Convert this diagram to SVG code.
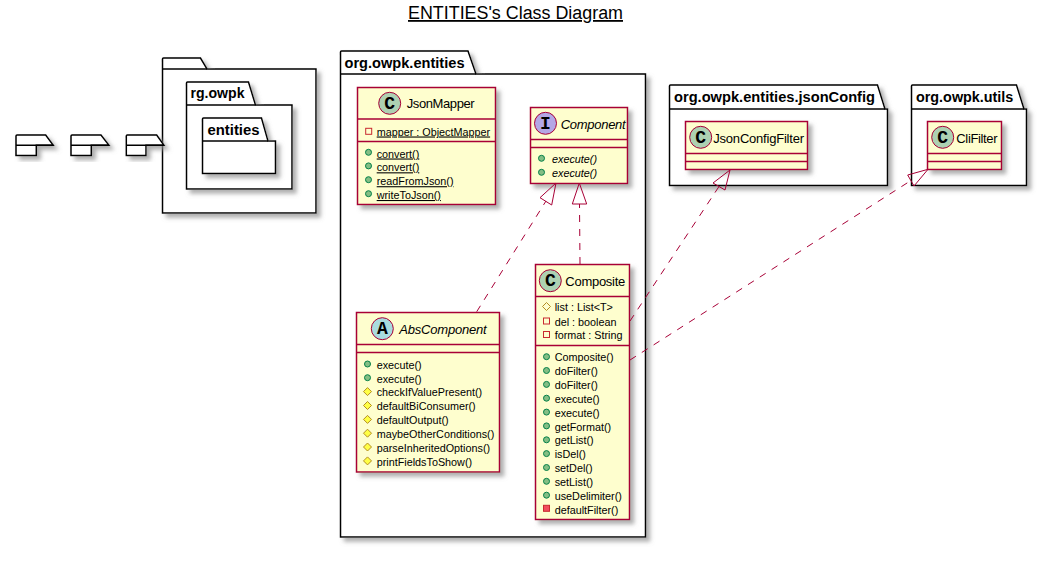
<svg xmlns="http://www.w3.org/2000/svg" width="1042" height="572" viewBox="0 0 1042 572">
<defs>
<filter id="sh" x="-20%" y="-20%" width="150%" height="150%"><feGaussianBlur in="SourceAlpha" stdDeviation="2"/><feColorMatrix type="matrix" values="0 0 0 0 0.3 0 0 0 0 0.3 0 0 0 0 0.3 0 0 0 0.75 0"/><feOffset dx="4" dy="4" result="b"/><feMerge><feMergeNode in="b"/><feMergeNode in="SourceGraphic"/></feMerge></filter>
</defs>
<style>
text{font-family:"Liberation Sans",Arial,sans-serif;fill:#000}
.title{font-size:18px;text-decoration:underline}
.pk{fill:#fff;stroke:#000;stroke-width:1.5;filter:url(#sh)}
.pl{fill:none;stroke:#000;stroke-width:1.5}
.pn{font-size:14px;font-weight:bold}
.cl{fill:#FEFECE;stroke:#A80036;stroke-width:1.5;filter:url(#sh)}
.sp{stroke:#A80036;stroke-width:1.5;fill:none}
.cn{font-size:13px}
.it{font-style:italic}
.m{font-size:10.8px}
.u{text-decoration:underline}
.ci{stroke:#A80036;stroke-width:1}
.g{font-family:"Liberation Mono",monospace;font-size:18px;font-weight:bold;text-anchor:middle}
.pub{fill:#84BE84;stroke:#038048;stroke-width:1}
.pri{fill:none;stroke:#C82930;stroke-width:1}
.prm{fill:#F24D5C;stroke:#C82930;stroke-width:1}
.pro{fill:#FFFF44;stroke:#B38D22;stroke-width:1}
.prf{fill:none;stroke:#B38D22;stroke-width:1}
.dash{fill:none;stroke:#A80036;stroke-width:1;stroke-dasharray:7,7}
.head{fill:none;stroke:#A80036;stroke-width:1}
</style>
<text class="title" x="408" y="19" textLength="215" lengthAdjust="spacingAndGlyphs">ENTITIES's Class Diagram</text>

<g id="pkg-org">
<path class="pk" d="M162.5,69 V59 Q162.5,58 163.5,58 H200.5 L207,69 H316 V213 H162.5 Z"/><path class="pl" d="M162.5,69 H207"/>
</g>
<g id="pkg-rg-owpk">
<path class="pk" d="M186.5,105 V83 Q186.5,82 187.5,82 H248.5 L255.5,105 H292 V189 H186.5 Z"/><path class="pl" d="M186.5,105 H255.5"/>
<text class="pn" x="190.5" y="98" textLength="54" lengthAdjust="spacingAndGlyphs">rg.owpk</text>
</g>
<g id="pkg-entities">
<path class="pk" d="M202.5,141 V119 Q202.5,118 203.5,118 H261.5 L268,141 H275.5 V173.5 H202.5 Z"/><path class="pl" d="M202.5,141 H268"/>
<text class="pn" x="207.5" y="134.5" textLength="52" lengthAdjust="spacingAndGlyphs">entities</text>
</g>
<g id="pkg-empty-1">
<path class="pk" d="M16,145.3 V136 Q16,135 17,135 H45.7 L53.3,145.3 H36.3 V155.5 H16 Z"/><path class="pl" d="M16,145.3 H53.3"/>
</g>
<g id="pkg-empty-2">
<path class="pk" d="M71,145.3 V136 Q71,135 72,135 H101 L109,145.3 H91.3 V155.5 H71 Z"/><path class="pl" d="M71,145.3 H109"/>
</g>
<g id="pkg-empty-3">
<path class="pk" d="M126.3,145.3 V136 Q126.3,135 127.3,135 H156.7 L164,145.3 H146 V155.5 H126.3 Z"/><path class="pl" d="M126.3,145.3 H164"/>
</g>

<g id="pkg-entities-main">
<path class="pk" d="M340.5,74 V52 Q340.5,51 341.5,51 H468 L476,74 H645.5 V537 H340.5 Z"/><path class="pl" d="M340.5,74 H476"/>
<text class="pn" x="344.5" y="68" textLength="120" lengthAdjust="spacingAndGlyphs">org.owpk.entities</text>
</g>
<g id="pkg-jsonConfig">
<path class="pk" d="M669.5,109 V86 Q669.5,85 670.5,85 H877.5 L885,109 H887.5 V185.5 H669.5 Z"/><path class="pl" d="M669.5,109 H885"/>
<text class="pn" x="674" y="102" textLength="201" lengthAdjust="spacingAndGlyphs">org.owpk.entities.jsonConfig</text>
</g>
<g id="pkg-utils">
<path class="pk" d="M911.5,109 V86 Q911.5,85 912.5,85 H1016.5 L1024,109 H1026.5 V185.5 H911.5 Z"/><path class="pl" d="M911.5,109 H1024"/>
<text class="pn" x="916" y="102" textLength="97.3" lengthAdjust="spacingAndGlyphs">org.owpk.utils</text>
</g>

<g id="JsonMapper">
<rect class="cl" x="357.5" y="87.5" width="138" height="117"/>
<path class="sp" d="M357.5,119 H495.5 M357.5,141.5 H495.5"/>
<circle class="ci" cx="389.7" cy="103.3" r="11" fill="#ADD1B2"/><text class="g" x="389.7" y="109">C</text>
<text class="cn" x="406.7" y="108" textLength="68">JsonMapper</text>
<rect class="pri" x="365.7" y="128.3" width="6" height="6"/>
<text class="m u" x="376.7" y="135.5">mapper : ObjectMapper</text>
<circle class="pub" cx="368.5" cy="152.3" r="3"/><text class="m u" x="376.7" y="157.5">convert()</text>
<circle class="pub" cx="368.5" cy="165.9" r="3"/><text class="m u" x="376.7" y="171.3">convert()</text>
<circle class="pub" cx="368.5" cy="179.7" r="3"/><text class="m u" x="376.7" y="185.2">readFromJson()</text>
<circle class="pub" cx="368.5" cy="193.7" r="3"/><text class="m u" x="376.7" y="199">writeToJson()</text>
</g>

<g id="Component">
<rect class="cl" x="530.5" y="107.5" width="97" height="76"/>
<path class="sp" d="M530.5,139.5 H627.5 M530.5,147.5 H627.5"/>
<circle class="ci" cx="545.5" cy="123.3" r="11" fill="#B4A7E5"/><text class="g" x="545.5" y="129">I</text>
<text class="cn it" x="560.7" y="128.5" textLength="65">Component</text>
<circle class="pub" cx="541.5" cy="158.3" r="3"/><text class="m it" x="552" y="163">execute()</text>
<circle class="pub" cx="541.5" cy="172.3" r="3"/><text class="m it" x="552" y="177">execute()</text>
</g>

<g id="AbsComponent">
<rect class="cl" x="356.5" y="312.5" width="143" height="159.5"/>
<path class="sp" d="M356.5,344.5 H499.5 M356.5,352.5 H499.5"/>
<circle class="ci" cx="382.3" cy="328.7" r="11" fill="#A9DCDF"/><text class="g" x="382.3" y="334.4">A</text>
<text class="cn it" x="399.3" y="334" textLength="87.3">AbsComponent</text>
<circle class="pub" cx="367.5" cy="364" r="3"/><text class="m" x="376.7" y="368.7">execute()</text>
<circle class="pub" cx="367.5" cy="377.7" r="3"/><text class="m" x="376.7" y="382.5">execute()</text>
<path class="pro" d="M367.5,387.6 l4,4 l-4,4 l-4,-4 Z"/><text class="m" x="376.7" y="396.4">checkIfValuePresent()</text>
<path class="pro" d="M367.5,401.5 l4,4 l-4,4 l-4,-4 Z"/><text class="m" x="376.7" y="410.3">defaultBiConsumer()</text>
<path class="pro" d="M367.5,415.4 l4,4 l-4,4 l-4,-4 Z"/><text class="m" x="376.7" y="424.2">defaultOutput()</text>
<path class="pro" d="M367.5,429.2 l4,4 l-4,4 l-4,-4 Z"/><text class="m" x="376.7" y="438">maybeOtherConditions()</text>
<path class="pro" d="M367.5,443 l4,4 l-4,4 l-4,-4 Z"/><text class="m" x="376.7" y="451.9">parseInheritedOptions()</text>
<path class="pro" d="M367.5,456.9 l4,4 l-4,4 l-4,-4 Z"/><text class="m" x="376.7" y="465.7">printFieldsToShow()</text>
</g>

<g id="Composite">
<rect class="cl" x="535.5" y="264.5" width="94" height="255"/>
<path class="sp" d="M535.5,296.5 H629.5 M535.5,345.5 H629.5"/>
<circle class="ci" cx="550.3" cy="280.7" r="11" fill="#ADD1B2"/><text class="g" x="550.3" y="286.4">C</text>
<text class="cn" x="565.3" y="285.5" textLength="60">Composite</text>
<path class="prf" d="M546.5,302.5 l4,4 l-4,4 l-4,-4 Z"/><text class="m" x="554.7" y="311.3">list : List&lt;T&gt;</text>
<rect class="pri" x="543.5" y="318" width="6" height="6"/><text class="m" x="554.7" y="325.5">del : boolean</text>
<rect class="pri" x="543.5" y="331.5" width="6" height="6"/><text class="m" x="554.7" y="339">format : String</text>
<circle class="pub" cx="546.5" cy="356.7" r="3"/><text class="m" x="554.7" y="361.3">Composite()</text>
<circle class="pub" cx="546.5" cy="370.5" r="3"/><text class="m" x="554.7" y="375.1">doFilter()</text>
<circle class="pub" cx="546.5" cy="384.4" r="3"/><text class="m" x="554.7" y="389">doFilter()</text>
<circle class="pub" cx="546.5" cy="398.2" r="3"/><text class="m" x="554.7" y="402.8">execute()</text>
<circle class="pub" cx="546.5" cy="412.1" r="3"/><text class="m" x="554.7" y="416.7">execute()</text>
<circle class="pub" cx="546.5" cy="425.9" r="3"/><text class="m" x="554.7" y="430.5">getFormat()</text>
<circle class="pub" cx="546.5" cy="439.8" r="3"/><text class="m" x="554.7" y="444.4">getList()</text>
<circle class="pub" cx="546.5" cy="453.6" r="3"/><text class="m" x="554.7" y="458.2">isDel()</text>
<circle class="pub" cx="546.5" cy="467.5" r="3"/><text class="m" x="554.7" y="472.1">setDel()</text>
<circle class="pub" cx="546.5" cy="481.3" r="3"/><text class="m" x="554.7" y="485.9">setList()</text>
<circle class="pub" cx="546.5" cy="495.2" r="3"/><text class="m" x="554.7" y="499.8">useDelimiter()</text>
<rect class="prm" x="543.5" y="505.3" width="6" height="6"/><text class="m" x="554.7" y="513.5">defaultFilter()</text>
</g>

<g id="JsonConfigFilter">
<rect class="cl" x="685.5" y="121.5" width="122" height="48"/>
<path class="sp" d="M685.5,153.5 H807.5 M685.5,161.5 H807.5"/>
<circle class="ci" cx="700.7" cy="137.3" r="11" fill="#ADD1B2"/><text class="g" x="700.7" y="143">C</text>
<text class="cn" x="713.3" y="143" textLength="90.7">JsonConfigFilter</text>
</g>
<g id="CliFilter">
<rect class="cl" x="927.5" y="121.5" width="74" height="48"/>
<path class="sp" d="M927.5,153.5 H1001.5 M927.5,161.5 H1001.5"/>
<circle class="ci" cx="942.7" cy="137.3" r="11" fill="#ADD1B2"/><text class="g" x="942.7" y="143">C</text>
<text class="cn" x="956.3" y="143" textLength="41.3">CliFilter</text>
</g>

<g id="connectors">
<path class="dash" d="M476.7,311.7 L546,201"/>
<path class="head" d="M556,183 L540,197.7 L551.7,205 Z"/>
<path class="dash" d="M580,264 L579.5,204"/>
<path class="head" d="M579.3,183 L572.3,204 L586.7,204 Z"/>
<path class="dash" d="M630,321 L719,186.5"/>
<path class="head" d="M730,170 L713,183 L725,190 Z"/>
<path class="dash" d="M630,360 L911,180.5"/>
<path class="head" d="M928,169.3 L907.7,175 L914,186 Z"/>
</g>
</svg>
